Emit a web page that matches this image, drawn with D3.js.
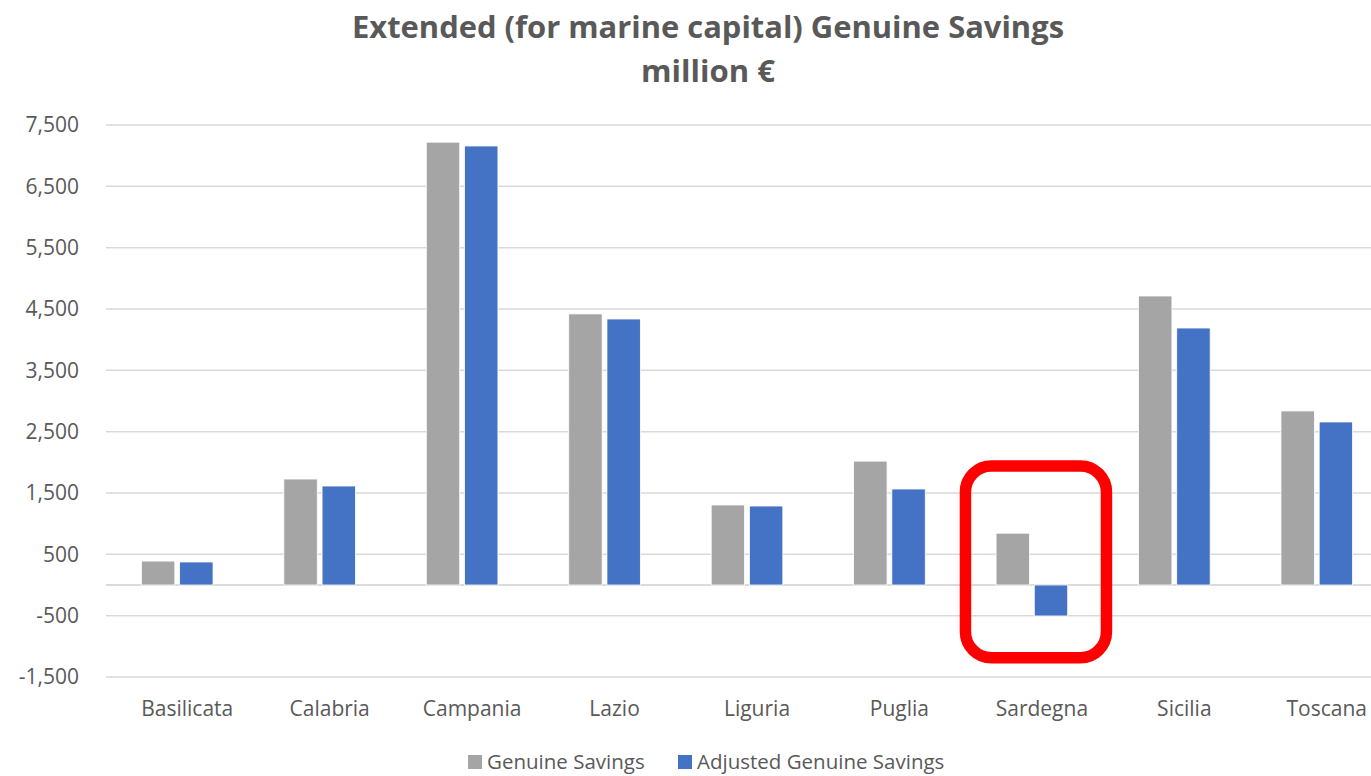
<!DOCTYPE html>
<html>
<head>
<meta charset="utf-8">
<script src="https://cdn.jsdelivr.net/npm/d3@7"></script>
<style>
  body { margin: 0; background: #fff; }
  text { font-family: "Open Sans", "DejaVu Sans", sans-serif; fill: #595959; }
</style>
</head>
<body>
<div id="chart"></div>
<script>
// data
var regions = ["Basilicata", "Calabria", "Campania", "Lazio", "Liguria", "Puglia", "Sardegna", "Sicilia", "Toscana"];
var genuineSavings = [390, 1728, 7220, 4420, 1305, 2020, 845, 4712, 2838];
var adjustedSavings = [375, 1614, 7158, 4337, 1288, 1565, -505, 4190, 2658];
var seriesNames = ["Genuine Savings", "Adjusted Genuine Savings"];
var seriesColors = ["#a5a5a5", "#4472c4"];
var yTicks = [-1500, -500, 500, 1500, 2500, 3500, 4500, 5500, 6500, 7500];
var highlighted = "Sardegna";

var width = 1371, height = 776;

// plain hyphen for negatives, like the original
var fmt = d3.formatLocale({ decimal: ".", thousands: ",", grouping: [3], currency: ["", "€"], minus: "-" }).format(",");

var svg = d3.select('#chart')
  .append('svg')
  .attr('width', width)
  .attr('height', height);

// title
var title = svg.append('g').attr('class', 'title');
title.append('text')
  .attr('x', 708).attr('y', 38)
  .attr('text-anchor', 'middle')
  .attr('font-size', 31).attr('font-weight', 'bold')
  .attr('textLength', 712).attr('lengthAdjust', 'spacingAndGlyphs')
  .text('Extended (for marine capital) Genuine Savings');
title.append('text')
  .attr('x', 708).attr('y', 82)
  .attr('text-anchor', 'middle')
  .attr('font-size', 31).attr('font-weight', 'bold')
  .attr('textLength', 134).attr('lengthAdjust', 'spacingAndGlyphs')
  .text('million €');

// scales
var y = d3.scaleLinear()
  .domain([-1500, 7500])
  .range([677, 125]);

var x0 = d3.scaleBand()
  .domain(regions)
  .range([106, 1388])
  .paddingInner(0.497)
  .paddingOuter(0.2485);

var x1 = d3.scaleBand()
  .domain(seriesNames)
  .range([0, x0.bandwidth()])
  .paddingInner(0.125);

// gridlines
svg.append('g')
  .selectAll('line')
  .data(yTicks.concat([0]))
  .enter()
  .append('line')
  .attr('x1', 106).attr('x2', 1388)
  .attr('y1', function(d) { return y(d); })
  .attr('y2', function(d) { return y(d); })
  .attr('stroke', function(d) { return d === 0 ? '#cfcfcf' : '#d9d9d9'; })
  .attr('stroke-width', 1.5);

// y axis labels
var yAxis = svg.append('g')
  .attr('transform', 'translate(79,0)')
  .call(d3.axisLeft(y).tickValues(yTicks).tickSize(0).tickPadding(0).tickFormat(fmt));
yAxis.select('.domain').remove();
yAxis.selectAll('text')
  .attr('font-size', 21)
  .attr('fill', '#595959')
  .style('font-family', '"Open Sans", sans-serif');

// bars
var rows = regions.map(function(r, i) {
  return { region: r, values: [genuineSavings[i], adjustedSavings[i]] };
});

var groups = svg.append('g')
  .selectAll('g')
  .data(rows)
  .enter()
  .append('g')
  .attr('transform', function(d) { return 'translate(' + x0(d.region) + ',0)'; });

groups.selectAll('rect')
  .data(function(d) {
    return d.values.map(function(v, i) { return { name: seriesNames[i], value: v, i: i }; });
  })
  .enter()
  .append('rect')
  .attr('x', function(d) { return x1(d.name); })
  .attr('width', x1.bandwidth())
  .attr('y', function(d) { return y(Math.max(0, d.value)); })
  .attr('height', function(d) { return Math.abs(y(d.value) - y(0)); })
  .attr('fill', function(d) { return seriesColors[d.i]; })
  .attr('stroke', '#ffffff')
  .attr('stroke-width', 0.8);

// category labels
var xAxis = svg.append('g')
  .attr('transform', 'translate(10,701)')
  .call(d3.axisBottom(x0).tickSize(0).tickPadding(0));
xAxis.select('.domain').remove();
xAxis.selectAll('text')
  .attr('font-size', 21)
  .attr('fill', '#595959')
  .attr('dy', '0.71em')
  .style('font-family', '"Open Sans", sans-serif');

// red highlight box around one region
var hx = x0(highlighted) - x0.step() * 0.215;
var hw = x0.step() * 0.99;
svg.append('rect')
  .attr('x', hx)
  .attr('y', y(1940))
  .attr('width', hw)
  .attr('height', y(-1185) - y(1940))
  .attr('rx', 26).attr('ry', 26)
  .attr('fill', 'none')
  .attr('stroke', '#ff0000')
  .attr('stroke-width', 11.5);

// legend
var legendX = [468, 678];
var legend = svg.append('g')
  .selectAll('g')
  .data(seriesNames)
  .enter()
  .append('g')
  .attr('transform', function(d, i) { return 'translate(' + legendX[i] + ',755)'; });
legend.append('rect')
  .attr('width', 14).attr('height', 14)
  .attr('fill', function(d, i) { return seriesColors[i]; });
legend.append('text')
  .attr('x', 19).attr('y', 7)
  .attr('dy', '0.35em')
  .attr('font-size', 20.5)
  .text(function(d) { return d; });
</script>
</body>
</html>
